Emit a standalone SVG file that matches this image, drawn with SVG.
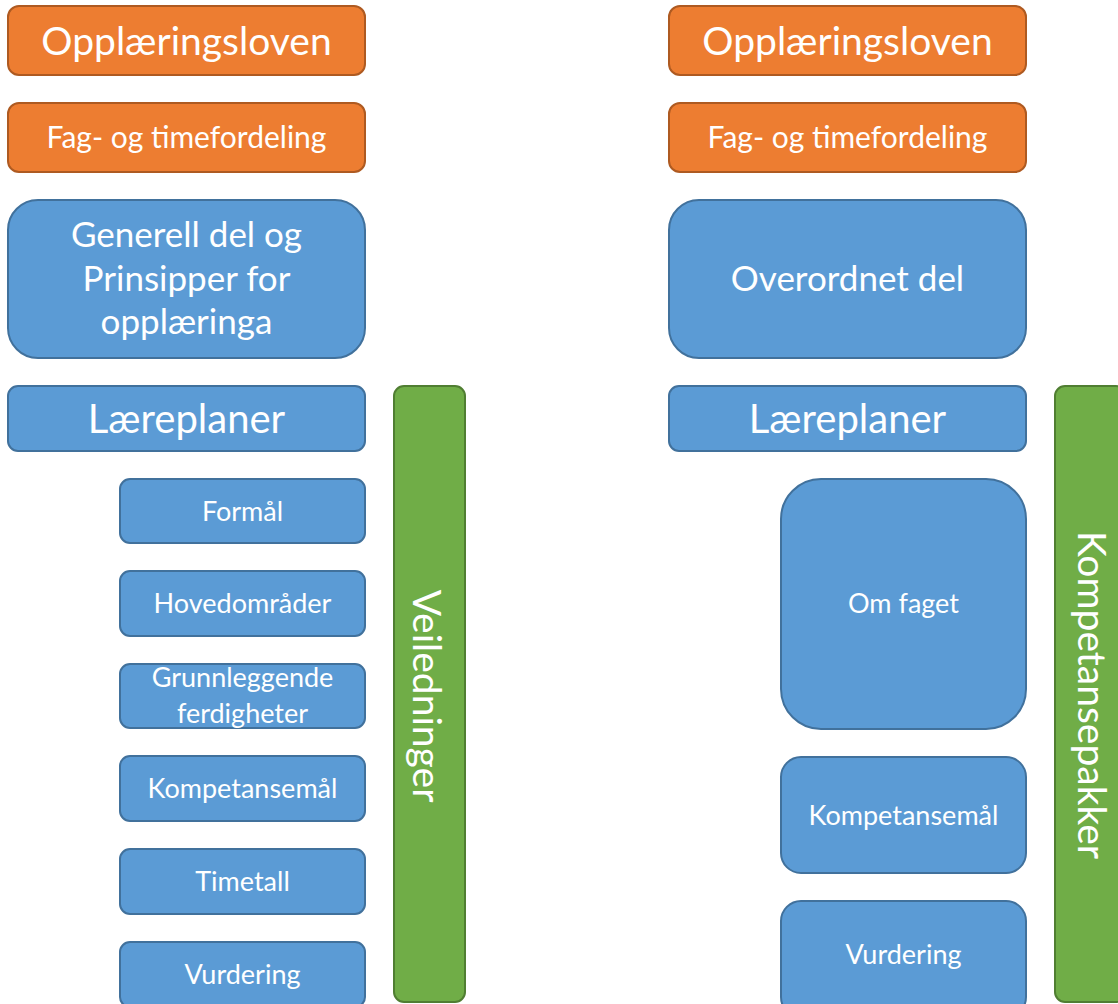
<svg xmlns="http://www.w3.org/2000/svg" width="1118" height="1004" viewBox="0 0 1118 1004">
<style>
.o{fill:#ED7D31;stroke:#AE5A21;stroke-width:2}
.b{fill:#5B9BD5;stroke:#41719C;stroke-width:2}
.g{fill:#70AD47;stroke:#507E32;stroke-width:2}
text{font-family:Lato,"Open Sans",sans-serif;fill:#fff;text-anchor:middle}
.t36{font-size:39px}
.t40{font-size:40px}
.t26{font-size:30px}
.t32{font-size:35px}
.t22{font-size:27px}
.tv{font-size:39px}
</style>
<rect width="1118" height="1004" fill="#fff"/>
<g id="l-opplaringsloven"><rect class="o" x="8" y="6" width="357" height="69" rx="11"/><text class="t36" x="186.5" y="55">Opplæringsloven</text></g>
<g id="l-fag"><rect class="o" x="8" y="103" width="357" height="69" rx="11"/><text class="t26" x="186.5" y="148">Fag- og timefordeling</text></g>
<g id="l-generell"><rect class="b" x="8" y="200" width="357" height="158" rx="30"/><text class="t32"><tspan x="186.5" y="247">Generell del og</tspan><tspan x="186.5" y="291">Prinsipper for</tspan><tspan x="186.5" y="334">opplæringa</tspan></text></g>
<g id="l-lareplaner"><rect class="b" x="8" y="386" width="357" height="65" rx="10"/><text class="t40" x="186.5" y="433">Læreplaner</text></g>
<g id="l-formal"><rect class="b" x="120" y="479" width="245" height="64" rx="10"/><text class="t22" x="242.5" y="521">Formål</text></g>
<g id="l-hovedomrader"><rect class="b" x="120" y="571" width="245" height="65" rx="10"/><text class="t22" x="242.5" y="613">Hovedområder</text></g>
<g id="l-grunnleggende"><rect class="b" x="120" y="664" width="245" height="64" rx="10"/><text class="t22"><tspan x="242.5" y="687">Grunnleggende</tspan><tspan x="242.5" y="723">ferdigheter</tspan></text></g>
<g id="l-kompetansemal"><rect class="b" x="120" y="756" width="245" height="65" rx="10"/><text class="t22" x="242.5" y="798">Kompetansemål</text></g>
<g id="l-timetall"><rect class="b" x="120" y="849" width="245" height="65" rx="10"/><text class="t22" x="242.5" y="891">Timetall</text></g>
<g id="l-vurdering"><rect class="b" x="120" y="942" width="245" height="65" rx="10"/><text class="t22" x="242.5" y="984">Vurdering</text></g>
<g id="l-veiledninger"><rect class="g" x="394" y="386" width="71" height="616" rx="10"/><text class="tv" transform="translate(413 696) rotate(90)" x="0" y="0">Veiledninger</text></g>

<g id="r-opplaringsloven"><rect class="o" x="669" y="6" width="357" height="69" rx="11"/><text class="t36" x="847.5" y="55">Opplæringsloven</text></g>
<g id="r-fag"><rect class="o" x="669" y="103" width="357" height="69" rx="11"/><text class="t26" x="847.5" y="148">Fag- og timefordeling</text></g>
<g id="r-overordnet"><rect class="b" x="669" y="200" width="357" height="158" rx="30"/><text class="t32" x="847.5" y="291">Overordnet del</text></g>
<g id="r-lareplaner"><rect class="b" x="669" y="386" width="357" height="65" rx="10"/><text class="t40" x="847.5" y="433">Læreplaner</text></g>
<g id="r-omfaget"><rect class="b" x="781" y="479" width="245" height="250" rx="40"/><text class="t22" x="903.5" y="613">Om faget</text></g>
<g id="r-kompetansemal"><rect class="b" x="781" y="757" width="245" height="116" rx="20"/><text class="t22" x="903.5" y="825">Kompetansemål</text></g>
<g id="r-vurdering"><rect class="b" x="781" y="901" width="245" height="116" rx="20"/><text class="t22" x="903.5" y="964">Vurdering</text></g>
<g id="r-kompetansepakker"><rect class="g" x="1055" y="386" width="71" height="616" rx="10"/><text class="tv" transform="translate(1078 695) rotate(90)" x="0" y="0">Kompetansepakker</text></g>
<g id="connectors"></g>
</svg>
